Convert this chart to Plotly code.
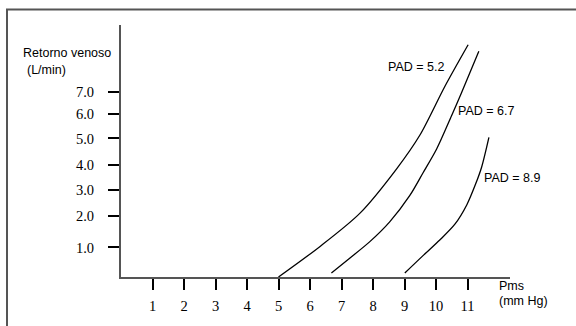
import plotly.graph_objects as go

# ---- data ----
pad_labels = ["PAD = 5.2", "PAD = 6.7", "PAD = 8.9"]

pms_52 = [5.0, 6.31, 7.58, 8.75, 9.49, 10.28, 11.02]
vr_52 = [0.0, 1.15, 2.41, 4.10, 5.38, 7.22, 8.80]

pms_67 = [6.68, 7.26, 7.90, 8.53, 9.17, 9.59, 10.02, 10.49, 10.81, 11.36]
vr_67 = [0.15, 0.71, 1.34, 2.09, 3.09, 3.95, 4.85, 6.10, 6.98, 8.55]

pms_89 = [9.01, 9.58, 10.12, 10.60, 10.98, 11.26, 11.45, 11.68]
vr_89 = [0.15, 0.80, 1.40, 2.00, 2.74, 3.53, 4.17, 5.29]

x_tick_vals = [1, 2, 3, 4, 5, 6, 7, 8, 9, 10, 11]
x_tick_text = ["1", "2", "3", "4", "5", "6", "7", "8", "9", "10", "11"]
y_tick_vals = [1.12, 2.30, 3.31, 4.25, 5.25, 6.17, 7.00]
y_tick_text = ["1.0", "2.0", "3.0", "4.0", "5.0", "6.0", "7.0"]

# ---- layout geometry ----
W, H = 576, 326
L, R, T, B = 121, 66, 25, 47
PW, PH = W - L - R, H - T - B


def px(x):
    return (x - L) / PW


def py(y):
    return (H - B - y) / PH


SANS = "Liberation Sans, Arial, sans-serif"
SERIF = "Liberation Serif, Times New Roman, serif"

fig = go.Figure()
for xs, ys in [(pms_52, vr_52), (pms_67, vr_67), (pms_89, vr_89)]:
    fig.add_trace(go.Scatter(x=xs, y=ys, mode="lines",
                             line=dict(color="black", width=1.3, shape="spline", smoothing=0.8),
                             showlegend=False, hoverinfo="skip"))

label_pos = [(416, 67), (486, 112), (512, 179)]
annotations = []
for txt, (ax, ay) in zip(pad_labels, label_pos):
    annotations.append(dict(text=txt, x=px(ax), y=py(ay), xref="paper", yref="paper",
                            showarrow=False, xanchor="center", yanchor="middle",
                            font=dict(family=SANS, size=12.5, color="black")))
for txt, ax, ay in [("Retorno venoso", 20.5, 53), ("(L/min)", 25, 70),
                    ("Pms", 497, 288.5), ("(mm Hg)", 497, 303.5)]:
    annotations.append(dict(text=txt, x=px(ax), y=py(ay), xref="paper", yref="paper",
                            showarrow=False, xanchor="left", yanchor="middle",
                            font=dict(family=SANS, size=12.5, color="black")))

shapes = [
    dict(type="rect", xref="paper", yref="paper", x0=px(7), y0=py(340), x1=px(600), y1=py(9.5),
         line=dict(color="#555555", width=2), fillcolor="rgba(0,0,0,0)", layer="below"),
]

fig.update_layout(
    width=W, height=H,
    margin=dict(l=L, r=R, t=T, b=B, pad=0),
    paper_bgcolor="white", plot_bgcolor="rgba(0,0,0,0)",
    annotations=annotations, shapes=shapes,
    xaxis=dict(range=[0, PW / 31.5], tickvals=x_tick_vals, ticktext=x_tick_text,
               showgrid=False, zeroline=False, showline=True, linecolor="#555555", linewidth=2,
               ticks="outside", ticklen=11, tickwidth=1.5, tickcolor="black",
               ticklabelstandoff=4,
               tickfont=dict(family=SERIF, size=14.5, color="black")),
    yaxis=dict(range=[0, PH / 26.6], tickvals=y_tick_vals, ticktext=y_tick_text,
               showgrid=False, zeroline=False, showline=True, linecolor="#555555", linewidth=2,
               ticks="outside", ticklen=11, tickwidth=1.5, tickcolor="black",
               ticklabelstandoff=11,
               tickfont=dict(family=SERIF, size=14.5, color="black")),
)

fig.write_html("out.html", config={"displayModeBar": False},
               post_script="document.body.style.margin='0';document.body.style.overflow='hidden';")
